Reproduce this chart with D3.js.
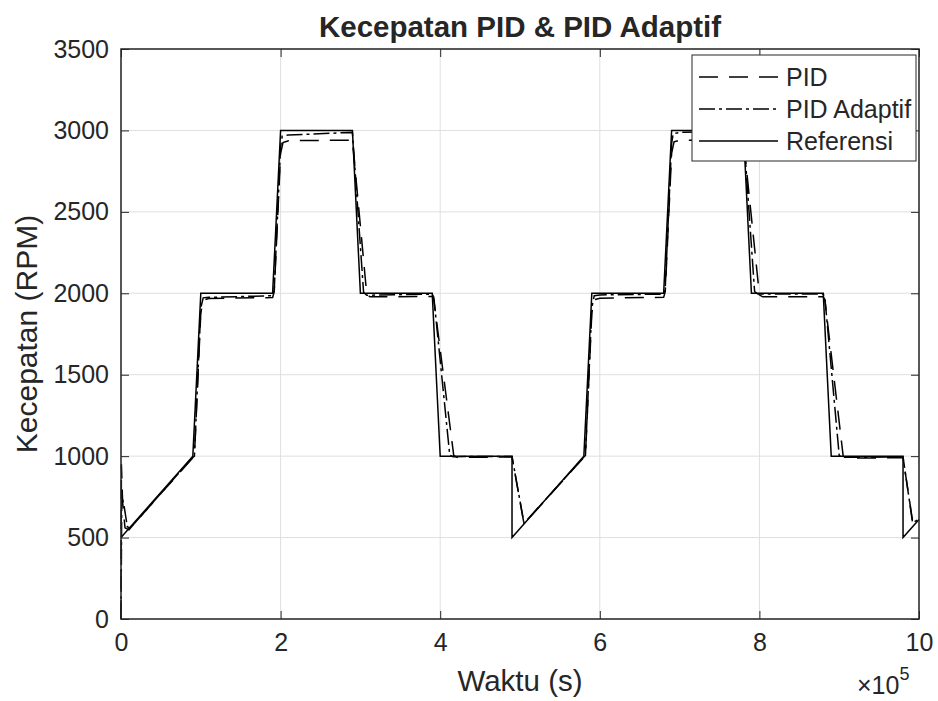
<!DOCTYPE html>
<html>
<head>
<meta charset="utf-8">
<script src="https://cdn.jsdelivr.net/npm/d3@7"></script>
<style>
  body { margin:0; background:#fff; }
  svg text { font-family: "Liberation Sans", Arial, Helvetica, sans-serif; fill:#262626; }
</style>
</head>
<body>
<svg id="chart" width="938" height="701"></svg>
<script>
// waktu dalam satuan x10^5 s, kecepatan dalam RPM
var referensi = [
  [0,500],[0.9,1000],[1.0,2000],[1.9,2000],[2.0,3000],[2.9,3000],[3.0,2000],[3.9,2000],
  [4.0,1000],[4.9,1000],[4.9,500],[5.8,1000],[5.9,2000],[6.8,2000],[6.9,3000],[7.8,3000],
  [7.9,2000],[8.8,2000],[8.9,1000],[9.8,1000],[9.8,500],[10,611]
];
var pid = [
  [0,0],[0.005,950],[0.02,720],[0.05,560],[0.1,548],[0.5,770],[0.9,990],[0.92,1000],
  [1.0,1880],[1.03,1958],[1.1,1968],[1.9,1974],[1.92,2010],[2.0,2860],[2.03,2925],[2.1,2937],
  [2.9,2940],[3.08,1992],[3.12,1978],[3.9,1980],[3.92,1960],[4.17,1003],[4.22,992],[4.9,995],
  [5.05,585],[5.4,775],[5.8,992],[5.82,1000],[5.9,1880],[5.93,1960],[6.0,1970],[6.8,1975],
  [6.82,2010],[6.9,2860],[6.93,2930],[7.0,2940],[7.8,2943],[8.0,1990],[8.04,1978],[8.8,1978],
  [8.82,1960],[9.05,1000],[9.1,988],[9.8,990],[9.92,600],[10,618]
];
var pidAdaptif = [
  [0,0],[0.01,760],[0.04,690],[0.08,565],[0.12,560],[0.5,772],[0.9,993],[0.92,1000],
  [1.0,1910],[1.03,1972],[1.1,1975],[1.9,1985],[1.92,2020],[2.0,2900],[2.02,2965],[2.1,2972],
  [2.9,2988],[3.04,2005],[3.08,1988],[3.9,1995],[3.92,1975],[4.12,1005],[4.16,997],[4.9,998],
  [5.05,588],[5.4,777],[5.8,995],[5.82,1005],[5.9,1910],[5.93,1985],[6.0,1990],[6.8,1995],
  [6.82,2030],[6.9,2920],[6.92,2980],[7.0,2988],[7.8,2995],[7.94,2010],[7.98,1995],[8.8,1995],
  [8.82,1975],[9.0,1005],[9.05,993],[9.8,995],[9.92,590],[10,615]
];
var xTicks = [0,2,4,6,8,10];
var yTicks = [0,500,1000,1500,2000,2500,3000,3500];
var legendLabels = ['PID','PID Adaptif','Referensi'];

drawChart();

function drawChart(){
  var svg = d3.select('#chart');
  var mLeft = 121, mRight = 919, mTop = 49, mBottom = 619;
  var ink = '#262626';

  var x = d3.scaleLinear().domain([0,10]).range([mLeft,mRight]);
  var y = d3.scaleLinear().domain([0,3500]).range([mBottom,mTop]);

  // grid
  svg.append('g').selectAll('line').data(xTicks).enter().append('line')
    .attr('x1',function(d){return x(d);}).attr('x2',function(d){return x(d);})
    .attr('y1',mTop).attr('y2',mBottom)
    .attr('stroke','#dfdfdf').attr('stroke-width',1);
  svg.append('g').selectAll('line').data(yTicks).enter().append('line')
    .attr('y1',function(d){return y(d);}).attr('y2',function(d){return y(d);})
    .attr('x1',mLeft).attr('x2',mRight)
    .attr('stroke','#dfdfdf').attr('stroke-width',1);

  // data lines
  var line = d3.line().x(function(d){return x(d[0]);}).y(function(d){return y(d[1]);});
  var plotArea = svg.append('g');
  plotArea.append('path').datum(pid).attr('d',line)
    .attr('fill','none').attr('stroke','#000').attr('stroke-width',1.5).attr('stroke-dasharray','19,11');
  plotArea.append('path').datum(pidAdaptif).attr('d',line)
    .attr('fill','none').attr('stroke','#000').attr('stroke-width',1.5).attr('stroke-dasharray','16,4,3,4');
  plotArea.append('path').datum(referensi).attr('d',line)
    .attr('fill','none').attr('stroke','#000').attr('stroke-width',1.5);

  // axes, ticks inside on all four sides
  function styleAxis(g){
    g.select('.domain').remove();
    g.selectAll('.tick line').attr('stroke',ink).attr('stroke-width',1);
    g.selectAll('.tick text').attr('fill',ink).style('font-size','25px');
  }
  svg.append('g').attr('transform','translate(0,'+mBottom+')')
    .call(d3.axisBottom(x).tickValues(xTicks).tickFormat(d3.format('d')).tickSizeInner(-8).tickSizeOuter(0).tickPadding(14))
    .call(styleAxis);
  svg.append('g').attr('transform','translate(0,'+mTop+')')
    .call(d3.axisTop(x).tickValues(xTicks).tickSizeInner(-8).tickSizeOuter(0).tickFormat(''))
    .call(styleAxis);
  svg.append('g').attr('transform','translate('+mLeft+',0)')
    .call(d3.axisLeft(y).tickValues(yTicks).tickFormat(d3.format('d')).tickSizeInner(-8).tickSizeOuter(0).tickPadding(12))
    .call(styleAxis);
  svg.append('g').attr('transform','translate('+mRight+',0)')
    .call(d3.axisRight(y).tickValues(yTicks).tickSizeInner(-8).tickSizeOuter(0).tickFormat(''))
    .call(styleAxis);
  svg.append('rect').attr('x',mLeft).attr('y',mTop).attr('width',mRight-mLeft).attr('height',mBottom-mTop)
    .attr('fill','none').attr('stroke',ink).attr('stroke-width',1.5);

  // title and labels
  svg.append('text').attr('x',(mLeft+mRight)/2).attr('y',37).attr('text-anchor','middle')
    .style('font-size','29.5px').style('font-weight','bold').attr('fill','#000')
    .text('Kecepatan PID & PID Adaptif');
  svg.append('text').attr('x',(mLeft+mRight)/2).attr('y',691).attr('text-anchor','middle')
    .style('font-size','29.5px').text('Waktu (s)');
  svg.append('text').attr('transform','translate(37,'+((mTop+mBottom)/2)+') rotate(-90)')
    .attr('text-anchor','middle').style('font-size','30px').text('Kecepatan (RPM)');
  var expo = svg.append('text').attr('x',857).attr('y',694).style('font-size','25px');
  expo.append('tspan').text('\u00d7');
  expo.append('tspan').text('10');
  expo.append('tspan').attr('dy',-14).style('font-size','18px').text('5');

  // legend
  var lg = svg.append('g');
  lg.append('rect').attr('x',692).attr('y',55).attr('width',224).attr('height',106)
    .attr('fill','#fff').attr('stroke',ink).attr('stroke-width',1);
  var dashes = ['19,11','16,4,3,4',null];
  legendLabels.forEach(function(lbl,i){
    var yy = 77 + i*32;
    lg.append('line').attr('x1',699).attr('x2',778).attr('y1',yy).attr('y2',yy)
      .attr('stroke','#000').attr('stroke-width',1.5)
      .attr('stroke-dasharray',dashes[i]);
    lg.append('text').attr('x',786).attr('y',yy+9).style('font-size','25px').attr('fill','#000').text(lbl);
  });
}
</script>
</body>
</html>
